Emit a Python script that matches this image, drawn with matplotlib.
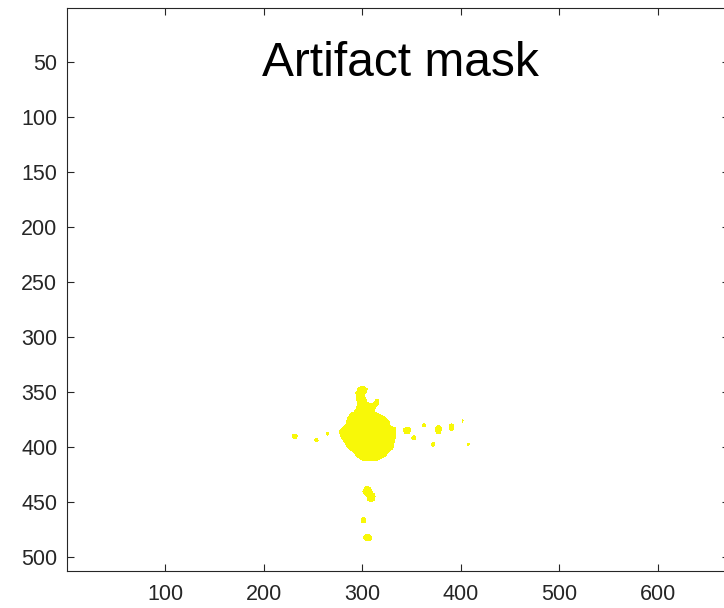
import numpy as np
import matplotlib
matplotlib.use("Agg")
import matplotlib.pyplot as plt
from matplotlib.path import Path
from matplotlib.colors import ListedColormap

# Mask grid size (rows x columns)
N_ROWS = 512
N_COLS = 672

# Outline of the main artifact region (column, row)
BODY_X = [292.8, 296.2, 302.3, 306.2, 305.0, 303.3, 306.2, 310.8, 314.2, 317.4,
          318.0, 314.7, 313.0, 317.5, 322.6, 327.7, 329.4, 334.5, 335.0, 333.3,
          331.6, 324.8, 317.5, 309.1, 300.6, 295.0, 290.0, 285.0, 281.5, 277.4,
          276.4, 280.0, 283.2, 285.0, 288.3, 292.8, 294.5, 292.8]
BODY_Y = [350.1, 345.1, 344.5, 346.8, 350.1, 353.1, 358.7, 360.2, 356.6, 356.6,
          360.1, 364.3, 366.7, 369.2, 371.3, 375.8, 380.4, 381.9, 387.9, 395.5,
          401.5, 407.6, 411.8, 413.0, 412.4, 409.4, 404.9, 400.3, 395.8, 389.6,
          384.9, 381.6, 378.5, 372.5, 368.0, 366.4, 360.7, 354.6]

# Small isolated spots: centre column, centre row, half-widths
SPOT_X = [231.2, 253.9, 265.1, 345.7, 352.4, 362.6, 377.8, 372.7, 391.0, 402.2,
          407.9, 305.5, 309.5, 301.4, 305.8]
SPOT_Y = [389.8, 393.7, 387.6, 384.6, 391.2, 379.8, 383.7, 397.3, 381.6, 376.1,
          397.3, 440.0, 445.0, 466.3, 482.3]
SPOT_RX = [3.0, 2.2, 1.7, 4.3, 2.6, 2.2, 3.6, 2.2, 2.9, 1.2,
           1.2, 5.5, 4.5, 3.4, 5.2]
SPOT_RY = [2.8, 2.0, 1.6, 3.3, 2.4, 2.0, 4.2, 2.0, 3.8, 1.2,
           1.2, 4.3, 4.8, 2.7, 3.7]

# Build the binary mask on pixel centres (1-based like the image indices)
cols, rows = np.meshgrid(np.arange(1, N_COLS + 1), np.arange(1, N_ROWS + 1))
pts = np.column_stack([cols.ravel(), rows.ravel()])
body = Path(np.column_stack([BODY_X, BODY_Y]), closed=True)
mask = body.contains_points(pts).reshape(N_ROWS, N_COLS)
for cx, cy, rx, ry in zip(SPOT_X, SPOT_Y, SPOT_RX, SPOT_RY):
    mask |= ((cols - cx) / rx) ** 2 + ((rows - cy) / ry) ** 2 <= 1.0

X_TICKS = [100, 200, 300, 400, 500, 600]
Y_TICKS = [50, 100, 150, 200, 250, 300, 350, 400, 450, 500]
TITLE = "Artifact mask"

plt.rcParams["font.family"] = ["Liberation Sans", "DejaVu Sans"]
fig = plt.figure(figsize=(7.24, 6.08), dpi=100)
ax = fig.add_axes([67 / 724, 37 / 608, 662 / 724, 563 / 608])

cmap = ListedColormap(["#ffffff", "#f8f808"])
ax.imshow(mask.astype(float), cmap=cmap, vmin=0, vmax=1,
          extent=(0.5, N_COLS + 0.5, N_ROWS + 0.5, 0.5),
          interpolation="nearest", aspect="auto")

ax.set_xticks(X_TICKS)
ax.set_yticks(Y_TICKS)
edge = "#262626"
for s in ax.spines.values():
    s.set_color(edge)
    s.set_linewidth(0.8)
ax.tick_params(direction="in", length=5, width=0.8, color=edge,
               labelcolor="#262626", labelsize=15.5,
               top=True, right=True)
ax.tick_params(axis="x", pad=9)
ax.tick_params(axis="y", pad=7)

fig.text(400 / 724, 1 - 76 / 608, TITLE, ha="center", va="baseline",
         fontsize=34.5, color="black")

fig.savefig("out.png", dpi=100)
